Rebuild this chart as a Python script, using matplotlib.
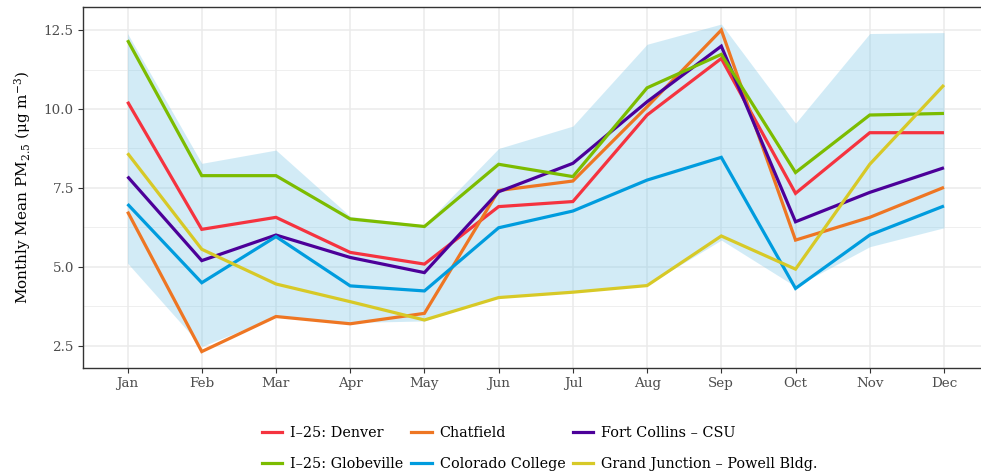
import matplotlib
matplotlib.use("Agg")
import matplotlib.pyplot as plt
from matplotlib.lines import Line2D
import numpy as np

months = ["Jan", "Feb", "Mar", "Apr", "May", "Jun", "Jul", "Aug", "Sep", "Oct", "Nov", "Dec"]

denver = [10.23, 6.19, 6.57, 5.46, 5.09, 6.91, 7.07, 9.81, 11.60, 7.33, 9.25, 9.25]
chatfield = [6.75, 2.32, 3.43, 3.20, 3.53, 7.42, 7.72, 10.07, 12.50, 5.85, 6.57, 7.52]
fort_collins = [7.86, 5.20, 6.01, 5.30, 4.82, 7.38, 8.28, 10.23, 11.99, 6.43, 7.36, 8.14]
globeville = [12.18, 7.89, 7.89, 6.52, 6.28, 8.25, 7.86, 10.67, 11.73, 7.99, 9.81, 9.86]
colorado_college = [6.99, 4.50, 5.96, 4.40, 4.24, 6.24, 6.77, 7.75, 8.47, 4.32, 6.01, 6.93]
grand_junction = [8.60, 5.56, 4.46, 3.90, 3.32, 4.03, 4.20, 4.41, 5.98, 4.93, 8.25, 10.76]

ribbon_upper = [12.39, 8.28, 8.70, 6.60, 6.33, 8.75, 9.46, 12.05, 12.69, 9.55, 12.39, 12.42]
ribbon_lower = [5.12, 2.48, 3.43, 3.24, 3.29, 4.06, 4.22, 4.43, 5.85, 4.38, 5.64, 6.24]

series_names = ["I\u201325: Denver", "Chatfield", "Fort Collins \u2013 CSU",
                "I\u201325: Globeville", "Colorado College", "Grand Junction \u2013 Powell Bldg."]
series_values = [denver, chatfield, fort_collins, globeville, colorado_college, grand_junction]
series_colors = ["#F5333F", "#EE7623", "#4C0099", "#7CBC00", "#009CDE", "#D7C927"]

y_ticks = [2.5, 5.0, 7.5, 10.0, 12.5]

plt.rcParams["font.family"] = ["DejaVu Serif"]
plt.rcParams["mathtext.fontset"] = "dejavuserif"

fig = plt.figure(figsize=(9.81, 4.74), dpi=100)
W, H = 981, 474
left, right, top, bottom = 83, 988.5, 7, 368
ax = fig.add_axes([left / W, 1 - bottom / H, (right - left) / W, (bottom - top) / H])

x = np.arange(len(months))
ax.fill_between(x, ribbon_lower, ribbon_upper, color="#7EC8E8", alpha=0.35, linewidth=0, zorder=2)

for i in range(len(series_values)):
    ax.plot(x, series_values[i], color=series_colors[i], lw=2.3, zorder=3 + i,
            solid_joinstyle="miter", solid_capstyle="butt")

ax.set_xlim(-0.6, 11.6)
ax.set_ylim(1.80, 13.23)
ax.set_xticks(x)
ax.set_xticklabels(months)
ax.set_yticks(y_ticks)
ax.set_yticklabels([f"{v:.1f}" for v in y_ticks])
ax.set_yticks([3.75, 6.25, 8.75, 11.25], minor=True)

ax.grid(True, which="major", color="#EBEBEB", lw=1.1, zorder=0)
ax.grid(True, which="minor", axis="y", color="#EBEBEB", lw=0.55, zorder=0)
ax.set_axisbelow(True)
ax.tick_params(which="major", length=3.5, width=0.8, color="#333333", labelsize=9.7,
               labelcolor="#4D4D4D", pad=3)
ax.tick_params(which="minor", length=0)
for s in ax.spines.values():
    s.set_color("#333333")
    s.set_linewidth(1.0)

ax.set_ylabel(r"Monthly Mean PM$_{2.5}$ ($\mathrm{\mu g\ m^{-3}}$)", fontsize=11, labelpad=8)

handles = [Line2D([], [], color=c, lw=2.3) for c in series_colors]
order = [0, 3, 1, 4, 2, 5]
fig.legend([handles[i] for i in order], [series_names[i] for i in order],
           ncol=3, loc="center", bbox_to_anchor=(540 / W, 1 - 448.5 / H),
           frameon=False, fontsize=10.4, handlelength=1.4, handletextpad=0.55,
           columnspacing=0.55, labelspacing=1.15)

fig.savefig("out.png", dpi=100)
